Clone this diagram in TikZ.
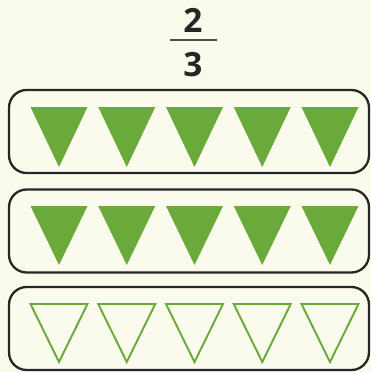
\documentclass[tikz,border=0pt]{standalone}
\usepackage{fontspec}
\setsansfont{Open Sans}
\usepackage{tikz}
\usetikzlibrary{positioning, arrows.meta}

\definecolor{leafgreen}{RGB}{106,170,58}
\definecolor{paper}{RGB}{250,251,236}

\begin{document}
\begin{tikzpicture}[
    x=0.02cm, y=-0.02cm,
    strip/.style={
        rectangle,
        rounded corners=10pt,
        draw=black!85,
        line width=1.3pt,
        minimum width=7.2cm,
        minimum height=1.66cm,
        inner sep=0pt
    },
    digit/.style={
        font=\sffamily\bfseries\fontsize{19}{22}\selectfont,
        text=black!85,
        inner sep=0pt
    },
    fulltri/.style={fill=leafgreen},
    emptytri/.style={draw=leafgreen, line width=1.1pt, line join=miter}
]

\fill[paper] (0,0) rectangle (371,372);

\node[digit] (num) at (193,20) {2};
\node[digit] (den) at (193,65) {3};
\draw[black!70, line width=0.7pt] (170,40) -- (217,40);

\node[strip] (row1) at (189,131.5) {};
\node[strip] (row2) at (189,231) {};
\node[strip] (row3) at (189,328.5) {};

\foreach \cx in {59,126.75,194.5,262.25,330} {
    \fill[fulltri] (\cx-28.5,107) -- (\cx+28.5,107) -- (\cx,167) -- cycle;
    \fill[fulltri] (\cx-28.5,206) -- (\cx+28.5,206) -- (\cx,265) -- cycle;
    \draw[emptytri] (\cx-28.5,304) -- (\cx+28.5,304) -- (\cx,362) -- cycle;
}

\end{tikzpicture}
\end{document}
